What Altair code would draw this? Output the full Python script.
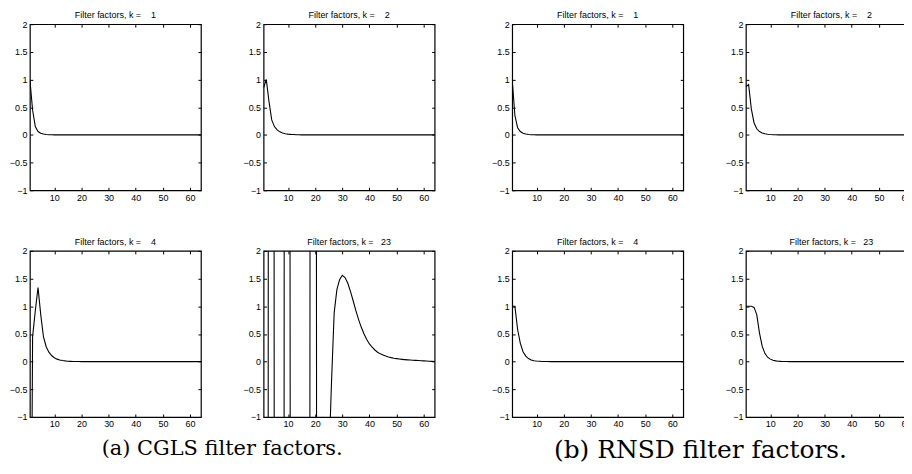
import altair as alt
import pandas as pd

IDX = list(range(1, 65))

CGLS_K1 = [1.0, 0.45, 0.15, 0.06, 0.03, 0.015, 0.008, 0.004, 0.002, 0.001, 0.0005, 0.0003, 0.0002, 0.0001, 0, 0,
           0, 0, 0, 0, 0, 0, 0, 0, 0, 0, 0, 0, 0, 0, 0, 0,
           0, 0, 0, 0, 0, 0, 0, 0, 0, 0, 0, 0, 0, 0, 0, 0,
           0, 0, 0, 0, 0, 0, 0, 0, 0, 0, 0, 0, 0, 0, 0, 0]
CGLS_K2 = [0.85, 1.0, 0.6, 0.27, 0.15, 0.09, 0.055, 0.035, 0.022, 0.014, 0.009, 0.006, 0.004, 0.002, 0.001, 0.0005,
           0, 0, 0, 0, 0, 0, 0, 0, 0, 0, 0, 0, 0, 0, 0, 0,
           0, 0, 0, 0, 0, 0, 0, 0, 0, 0, 0, 0, 0, 0, 0, 0,
           0, 0, 0, 0, 0, 0, 0, 0, 0, 0, 0, 0, 0, 0, 0, 0]
CGLS_K4 = [-8.0, 0.45, 0.92, 1.34, 0.85, 0.45, 0.27, 0.17, 0.11, 0.07, 0.045, 0.03, 0.02, 0.013, 0.008, 0.005,
           0.003, 0.002, 0.001, 0.0005, 0, 0, 0, 0, 0, 0, 0, 0, 0, 0, 0, 0,
           0, 0, 0, 0, 0, 0, 0, 0, 0, 0, 0, 0, 0, 0, 0, 0,
           0, 0, 0, 0, 0, 0, 0, 0, 0, 0, 0, 0, 0, 0, 0, 0]
CGLS_K23 = [-80.0, -100.0, 40.0, 90.0, -10.0, -70.0, -90.0, -60.0, 45.0, 40.0, -11.0, -40.0, -70.0, -90.0, -80.0, -60.0,
            -100.0, -5.0, 60.0, 40.0, -40.0, -30.0, -15.0, -6.0, -1.9, -0.4, 0.88, 1.3, 1.48, 1.56, 1.52, 1.42,
            1.27, 1.1, 0.92, 0.76, 0.62, 0.5, 0.4, 0.32, 0.26, 0.21, 0.17, 0.14, 0.12, 0.1, 0.085, 0.072,
            0.062, 0.054, 0.047, 0.041, 0.036, 0.032, 0.028, 0.025, 0.022, 0.019, 0.016, 0.013, 0.01, 0.007, 0.004, 0.001]

RNSD_K1 = [1.0, 0.35, 0.13, 0.06, 0.03, 0.015, 0.008, 0.004, 0.002, 0.001, 0.0005, 0, 0, 0, 0, 0,
           0, 0, 0, 0, 0, 0, 0, 0, 0, 0, 0, 0, 0, 0, 0, 0,
           0, 0, 0, 0, 0, 0, 0, 0, 0, 0, 0, 0, 0, 0, 0, 0,
           0, 0, 0, 0, 0, 0, 0, 0, 0, 0, 0, 0, 0, 0, 0, 0]
RNSD_K2 = [0.87, 0.91, 0.47, 0.22, 0.11, 0.06, 0.035, 0.02, 0.012, 0.007, 0.004, 0.002, 0.001, 0.0005, 0, 0,
           0, 0, 0, 0, 0, 0, 0, 0, 0, 0, 0, 0, 0, 0, 0, 0,
           0, 0, 0, 0, 0, 0, 0, 0, 0, 0, 0, 0, 0, 0, 0, 0,
           0, 0, 0, 0, 0, 0, 0, 0, 0, 0, 0, 0, 0, 0, 0, 0]
RNSD_K4 = [1.0, 1.0, 0.58, 0.33, 0.18, 0.1, 0.055, 0.03, 0.017, 0.01, 0.006, 0.003, 0.002, 0.001, 0.0005, 0,
           0, 0, 0, 0, 0, 0, 0, 0, 0, 0, 0, 0, 0, 0, 0, 0,
           0, 0, 0, 0, 0, 0, 0, 0, 0, 0, 0, 0, 0, 0, 0, 0,
           0, 0, 0, 0, 0, 0, 0, 0, 0, 0, 0, 0, 0, 0, 0, 0]
RNSD_K23 = [1.0, 1.0, 1.0, 0.98, 0.85, 0.52, 0.28, 0.15, 0.08, 0.045, 0.025, 0.014, 0.008, 0.004, 0.002, 0.001,
            0, 0, 0, 0, 0, 0, 0, 0, 0, 0, 0, 0, 0, 0, 0, 0,
            0, 0, 0, 0, 0, 0, 0, 0, 0, 0, 0, 0, 0, 0, 0, 0,
            0, 0, 0, 0, 0, 0, 0, 0, 0, 0, 0, 0, 0, 0, 0, 0]

K_LABELS = ["1", "2", "4", "23"]
X_TICKS = [10, 20, 30, 40, 50, 60]
Y_TICKS = [-1, -0.5, 0, 0.5, 1, 1.5, 2]

PW, PH = 172, 167
TICK = 3


def panel(values, k):
    df = pd.DataFrame({"i": IDX, "v": values})
    xs = alt.Scale(domain=[1, 64], nice=False, zero=False)
    ys = alt.Scale(domain=[-1, 2], nice=False, zero=False)
    line = alt.Chart(df).mark_line(color="black", strokeWidth=1.1, clip=True).encode(
        x=alt.X("i:Q", scale=xs, title=None,
                axis=alt.Axis(orient="bottom", values=X_TICKS, tickSize=TICK, offset=-TICK,
                              labelPadding=3, domain=False, grid=False)),
        y=alt.Y("v:Q", scale=ys, title=None,
                axis=alt.Axis(orient="left", values=Y_TICKS, tickSize=TICK, offset=-TICK,
                              labelPadding=3, format="~g", domain=False, grid=False)),
    )
    ghost = alt.Chart(df).mark_line(strokeOpacity=0, clip=True).encode(
        x=alt.X("i:Q", scale=xs, title=None,
                axis=alt.Axis(orient="top", values=X_TICKS, tickSize=TICK, offset=-TICK,
                              labels=False, domain=False, grid=False)),
        y=alt.Y("v:Q", scale=ys, title=None,
                axis=alt.Axis(orient="right", values=Y_TICKS, tickSize=TICK, offset=-TICK,
                              labels=False, domain=False, grid=False)),
    )
    title = "Filter factors, k = " + "\u00a0" * (3 - len(k)) + "\u00a0" + k
    return alt.layer(line, ghost).resolve_axis(x="independent", y="independent").properties(
        width=PW, height=PH,
        title=alt.TitleParams(title, font="Liberation Sans", fontSize=9, fontWeight="normal",
                              color="black", offset=0),
    )


def group(series, caption, size, dx):
    panels = [panel(s, k) for s, k in zip(series, K_LABELS)]
    return alt.concat(
        *panels, columns=2, spacing={"row": 61, "column": 63}, bounds="flush",
        title=alt.TitleParams(caption, orient="bottom", anchor="middle", font="DejaVu Serif",
                              fontSize=size, fontWeight="normal", color="black", offset=9, dx=dx),
    )


group_a = group([CGLS_K1, CGLS_K2, CGLS_K4, CGLS_K23], "(a) CGLS filter factors.", 21, 0)
group_b = group([RNSD_K1, RNSD_K2, RNSD_K4, RNSD_K23], "(b) RNSD filter factors.", 25, -4)

chart = alt.hconcat(group_a, group_b, spacing=54).properties(
    padding={"left": 0, "top": 1, "right": -15, "bottom": -2},
    background="white",
).configure_view(stroke="black", strokeWidth=1.2).configure_axis(
    labelFont="Liberation Sans", labelFontSize=9, labelColor="black", tickColor="black",
    tickWidth=1,
)

chart.save("out.html", embed_options={"renderer": "svg", "actions": False})
